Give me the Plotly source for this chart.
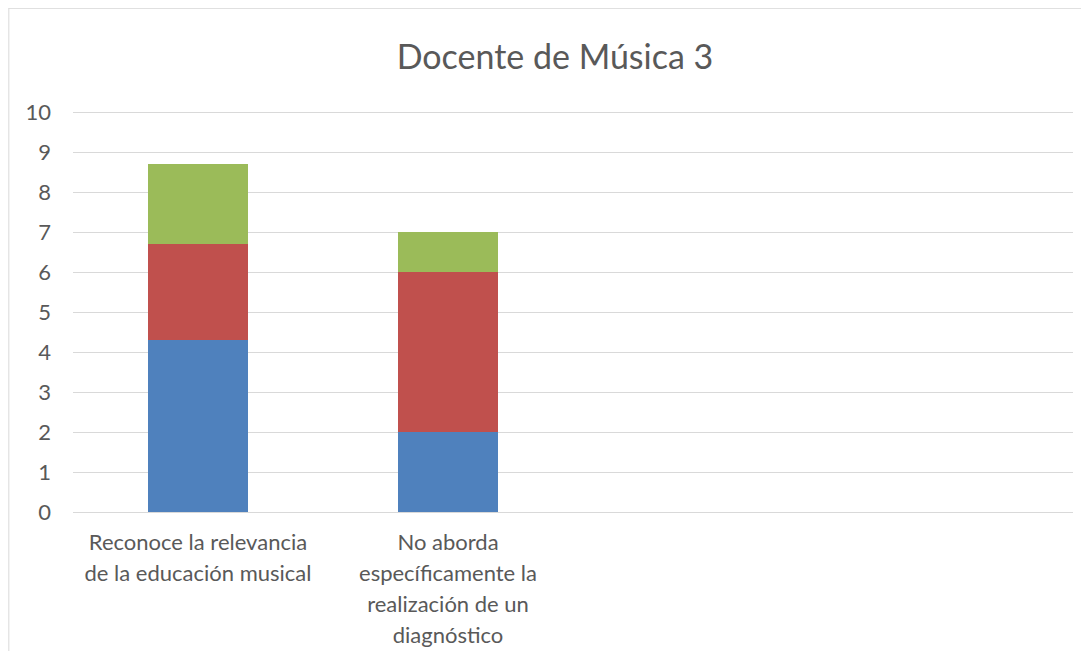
import plotly.graph_objects as go

categories = [["Reconoce la relevancia", "de la educación musical"],
              ["No aborda", "específicamente la", "realización de un", "diagnóstico"],
              [""], [""]]
cat_pos = [0, 1, 2, 3]
series_names = ["Serie 1", "Serie 2", "Serie 3"]
serie1 = [4.3, 2.0]
serie2 = [2.4, 4.0]
serie3 = [2.0, 1.0]
colors = ["#4F81BD", "#C0504D", "#9BBB59"]
y_ticks = list(range(0, 11))

OFF = 8  # page body margin
W, H = 1089 - OFF, 651 - OFF
L, R, T, B = 72.7 - OFF, 1073 - OFF, 111.7 - OFF, 511.7 - OFF
FONT = "Lato"
GREY = "#595959"
TICK_PX = 22

ticktext = ["<br>".join(f'<span style="font-size:{TICK_PX}px">{ln}</span>' for ln in lines)
            for lines in categories]

fig = go.Figure()
for name, vals, col in zip(series_names, [serie1, serie2, serie3], colors):
    fig.add_trace(go.Bar(x=cat_pos[:len(vals)], y=vals, name=name,
                         marker=dict(color=col, line=dict(width=0)), width=0.4))

ymax = 10.1
fig.update_layout(
    width=W, height=H, barmode="stack", showlegend=False,
    paper_bgcolor="white", plot_bgcolor="white",
    margin=dict(l=L, r=W - R, t=T - 4, b=H - B, autoexpand=False),
    font=dict(family=FONT, color=GREY),
    title=dict(text="Docente de Música 3", x=(555 - OFF) / W, xref="container", xanchor="center",
               y=1 - (57 - OFF) / H, yref="container", yanchor="middle",
               font=dict(size=34, color=GREY, family=FONT)),
    xaxis=dict(range=[-0.5, 3.5], tickvals=cat_pos, ticktext=ticktext,
               showgrid=False, zeroline=False, showline=True, linecolor="#D9D9D9",
               linewidth=1, ticks="", tickfont=dict(size=24, color=GREY),
               ticklabelstandoff=8),
    yaxis=dict(range=[0, ymax], tickvals=y_ticks, showgrid=True, gridcolor="#D9D9D9",
               gridwidth=1, zeroline=False, showline=False, ticks="",
               tickfont=dict(size=TICK_PX, color=GREY), ticklabelstandoff=21),
    shapes=[
        dict(type="line", xref="paper", yref="paper",
             x0=(0 - L) / (R - L), x1=(W + 5 - L) / (R - L),
             y0=(B - 5) / (B - T), y1=(B - 5) / (B - T),
             line=dict(color="#D9D9D9", width=1)),
        dict(type="line", xref="paper", yref="paper",
             x0=(0.5 - L) / (R - L), x1=(0.5 - L) / (R - L),
             y0=(B - 5) / (B - T), y1=(B - H - 5) / (B - T),
             line=dict(color="#D9D9D9", width=1)),
    ],
)
fig.write_html("out.html")
